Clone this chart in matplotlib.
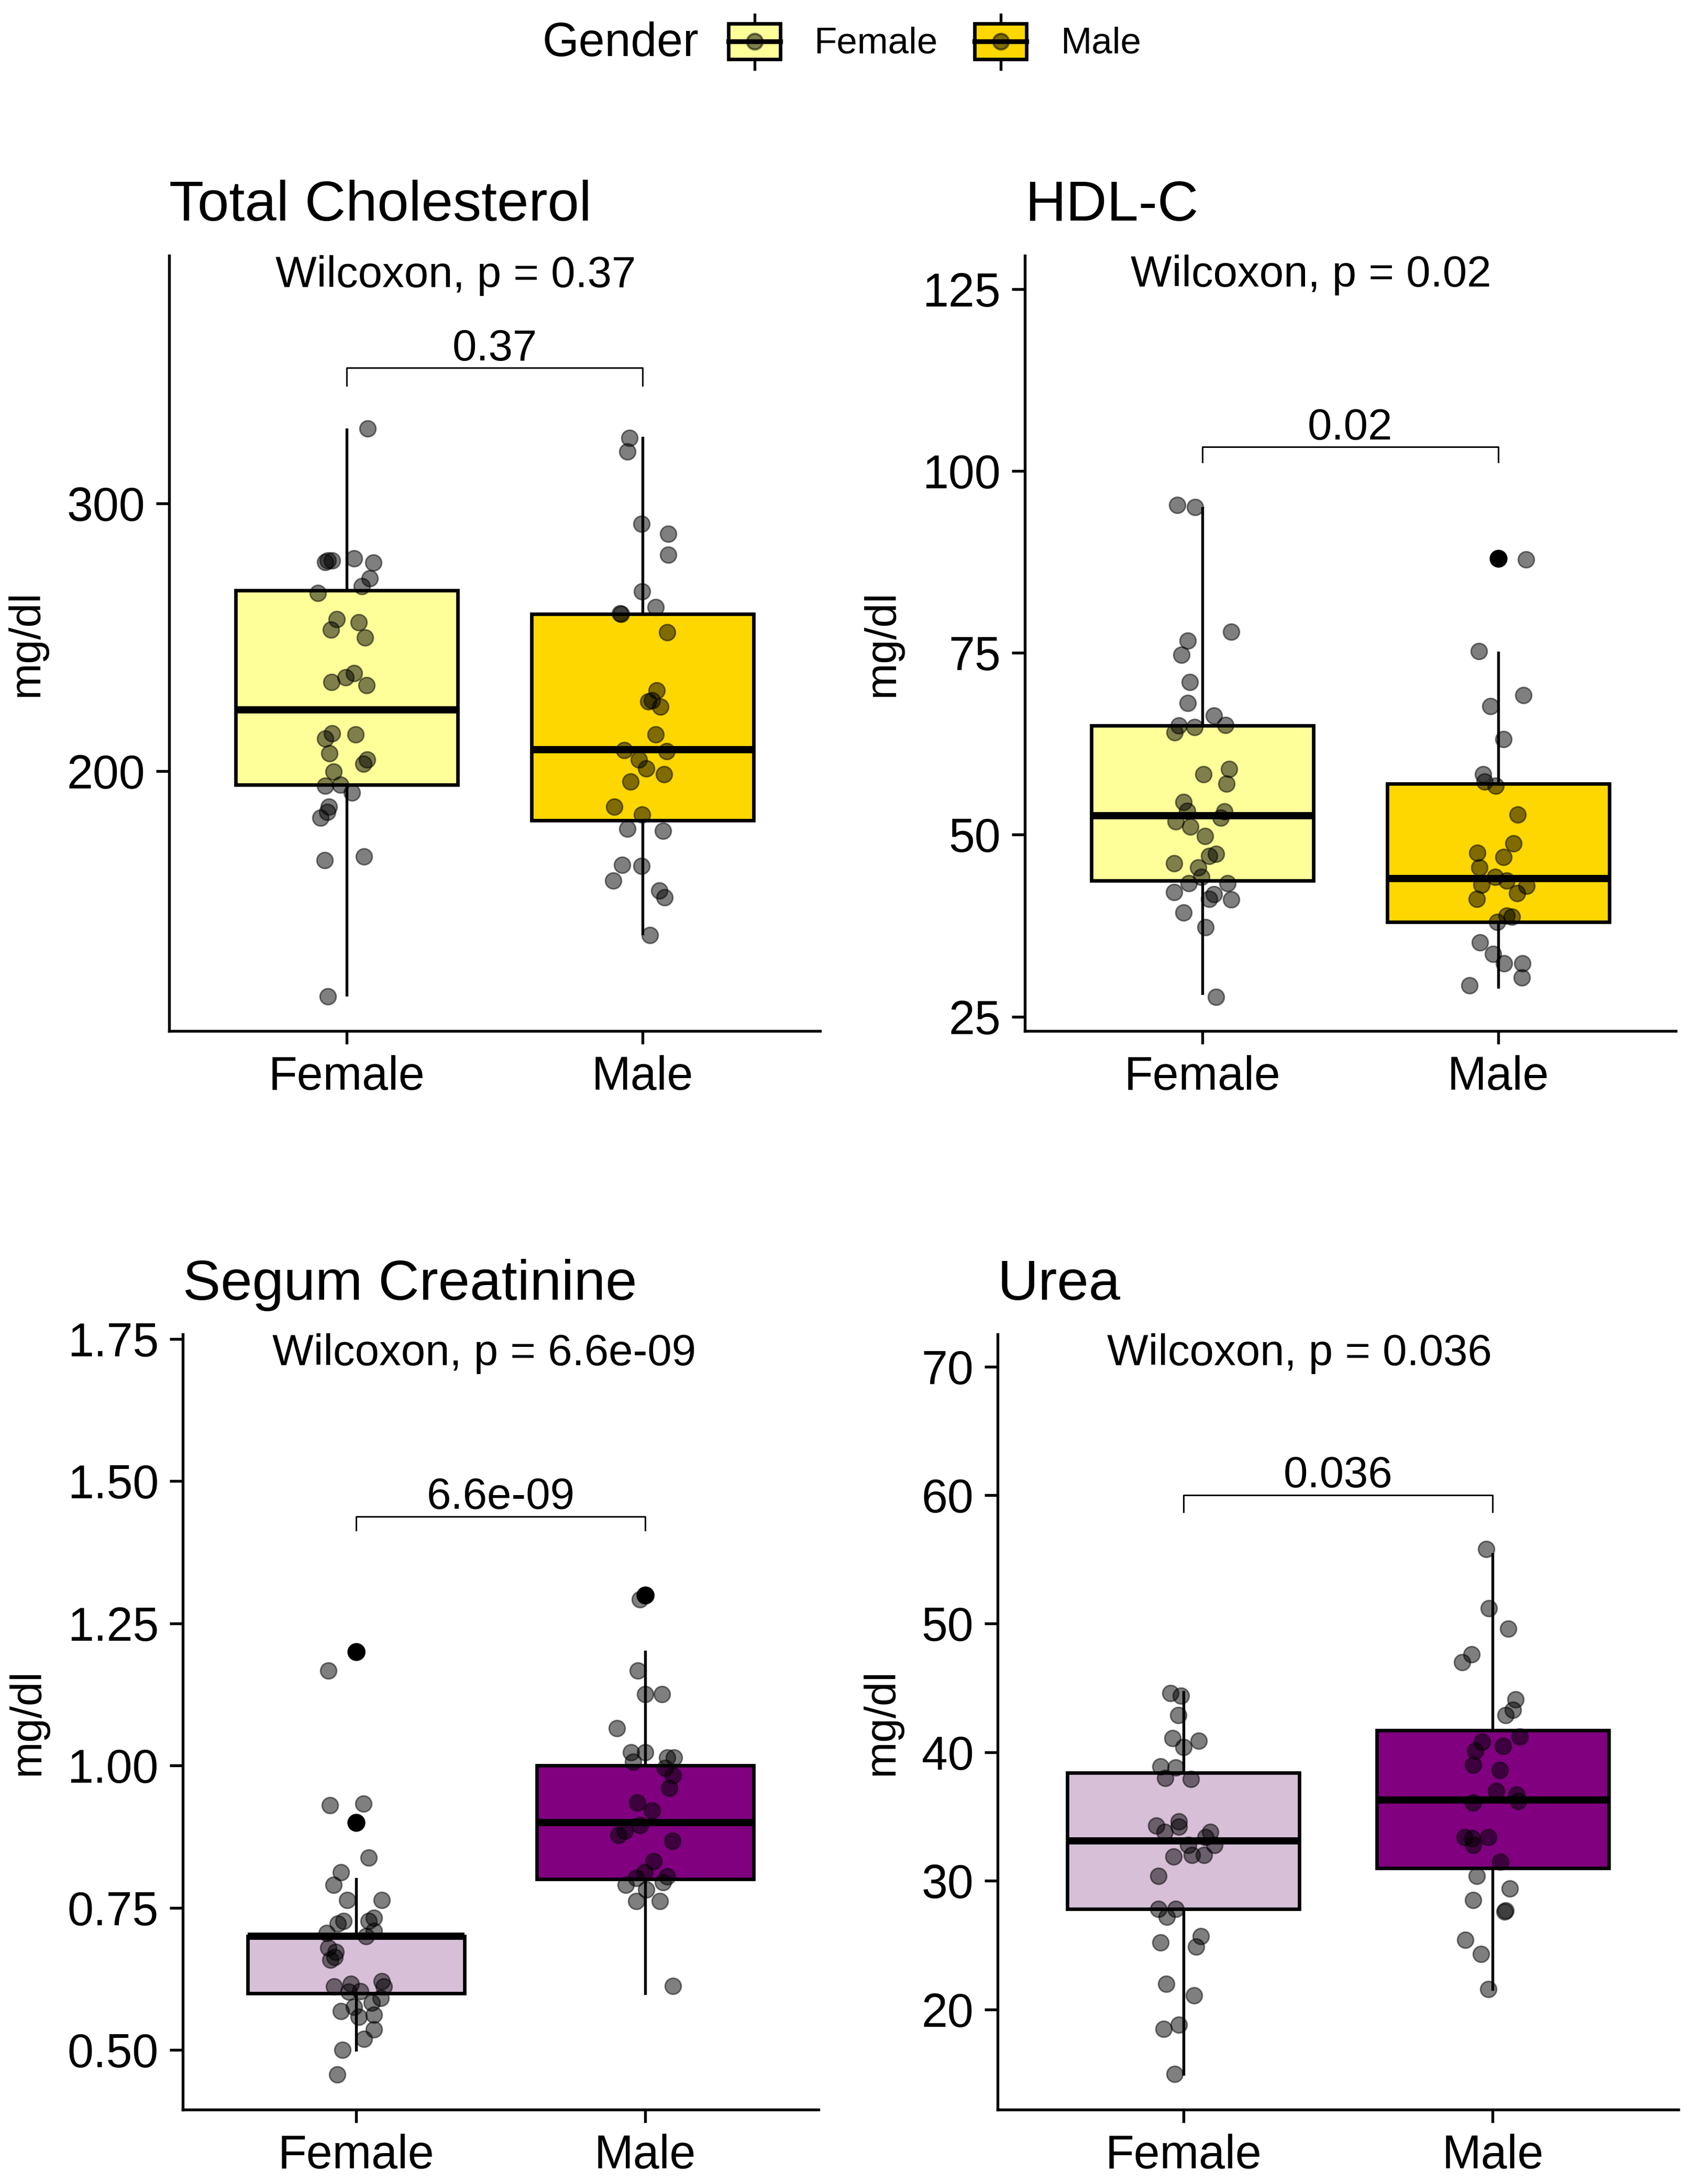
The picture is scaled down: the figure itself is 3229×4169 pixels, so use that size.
import matplotlib
matplotlib.use('Agg')
import matplotlib.pyplot as plt
from matplotlib.patches import Rectangle
from matplotlib.lines import Line2D
from matplotlib.ticker import FormatStrFormatter

plt.rcParams['font.family'] = ['Liberation Sans', 'DejaVu Sans']

# ---------------- data ----------------
groups = ['Female', 'Male']
titles = ['Total Cholesterol', 'HDL-C', 'Segum Creatinine', 'Urea']
p_values = ['0.37', '0.02', '6.6e-09', '0.036']
ylabel = 'mg/dl'

# Total cholesterol
tc_female = [328, 278.6, 278.6, 278, 279.4, 277.8, 272, 269, 266.5, 256.8, 255.6, 252.7, 249.8,
             236.6, 235, 233.3, 232, 214, 212, 213.6, 206.6, 204.3, 202.7, 199.8, 194.4, 194.8,
             192, 186.6, 184.6, 182.5, 166.7, 168, 115.8]
tc_female_jit = [0.07, -0.064, -0.049, -0.073, 0.024, 0.091, 0.078, 0.051, -0.098, -0.034, 0.04,
                 -0.053, 0.062, 0.024, -0.004, -0.051, 0.067, -0.049, -0.073, 0.031, -0.058, 0.069,
                 0.056, -0.044, -0.073, -0.022, 0.018, -0.06, -0.065, -0.089, -0.074, 0.058, -0.064]
tc_male = [324.5, 319.3, 292.4, 288.7, 280.7, 267, 261.3, 258.8, 258.6, 251.9, 230, 226, 226.4,
           224, 213.6, 207.8, 207.4, 204.3, 201, 198.8, 196, 186.6, 183.7, 178.4, 177.6, 165,
           164.6, 159, 155.3, 152.7, 138.7]
tc_male_jit = [-0.045, -0.051, -0.004, 0.087, 0.087, -0.002, 0.044, -0.076, -0.073, 0.083, 0.047,
               0.02, 0.031, 0.06, 0.045, -0.062, 0.082, -0.013, 0.013, 0.073, -0.04, -0.096, -0.002,
               -0.051, 0.069, -0.069, -0.004, -0.1, 0.056, 0.074, 0.025]
# box stats: whisker low, Q1, median, Q3, whisker high
tc_box_female = [116.3, 194.9, 222.8, 267.5, 327.6]
tc_box_male = [139.3, 181.5, 208.0, 258.6, 324.5]
tc_out_female = []
tc_out_male = []

# HDL-C
hdl_female = [95.3, 95, 77.9, 76.7, 74.7, 71, 68.1, 66.4, 65, 64.8, 65.1, 64.1, 58.3, 59, 57,
              54.5, 53.3, 53.2, 51.8, 52.3, 51.1, 49.8, 47.4, 47.1, 46.1, 45.5, 44.2, 43.3, 43.3,
              42.1, 41.8, 41.2, 41.1, 39.3, 37.3, 27.7]
hdl_female_jit = [-0.085, -0.024, 0.097, -0.05, -0.07, -0.042, -0.05, 0.039, -0.079, -0.026, 0.079,
                  -0.094, 0.004, 0.09, 0.081, -0.063, -0.051, 0.074, -0.09, 0.063, -0.04, 0.009,
                  0.046, 0.024, -0.096, -0.013, -0.004, -0.046, 0.085, -0.096, 0.039, 0.024, 0.097,
                  -0.063, 0.011, 0.046]
hdl_male = [87.8, 75.2, 69.2, 67.7, 63.1, 58.3, 57.3, 56.7, 52.8, 48.8, 47.5, 46.9, 45.5, 44.2,
            43.7, 43, 43.1, 42, 41.2, 38.7, 38.9, 38, 35.2, 33.6, 32.3, 32.3, 30.4, 29.3]
hdl_male_jit = [0.094, -0.066, 0.086, -0.026, 0.017, -0.051, -0.046, -0.009, 0.066, 0.051, -0.07,
                0.017, -0.064, -0.011, 0.028, 0.096, -0.057, 0.064, -0.072, 0.046, 0.028, -0.004,
                -0.061, -0.017, 0.02, 0.081, 0.079, -0.097]
hdl_box_female = [28.2, 43.7, 52.6, 65.0, 94.9]
hdl_box_male = [29.1, 38.0, 44.0, 57.0, 75.0]
hdl_out_female = []
hdl_out_male = [88.0]

# Serum creatinine
cr_female = [1.167, 1.2, 0.93, 0.933, 0.9, 0.838, 0.812, 0.79, 0.764, 0.764, 0.727, 0.722, 0.732,
             0.727, 0.706, 0.709, 0.7, 0.68, 0.672, 0.659, 0.663, 0.621, 0.616, 0.612, 0.612,
             0.602, 0.603, 0.591, 0.583, 0.576, 0.568, 0.562, 0.558, 0.536, 0.52, 0.5, 0.457]
cr_female_jit = [-0.096, 0.002, -0.09, 0.026, 0.0, 0.044, -0.052, -0.077, -0.03, 0.089, -0.044,
                 -0.063, 0.061, 0.044, -0.101, 0.061, 0.035, -0.096, -0.07, -0.089, -0.074, 0.089,
                 -0.017, -0.076, 0.096, -0.026, 0.015, 0.085, 0.054, -0.007, -0.052, 0.061, 0.009,
                 0.061, 0.028, -0.046, -0.065]
cr_male = [1.292, 1.3, 1.167, 1.126, 1.126, 1.066, 1.023, 1.023, 1.007, 1.014, 1.014, 0.996, 0.983,
           0.961, 0.935, 0.921, 0.895, 0.885, 0.878, 0.868, 0.832, 0.812, 0.802, 0.805, 0.795,
           0.79, 0.782, 0.762, 0.762, 0.613]
cr_male_jit = [-0.018, 0.002, -0.024, 0.0, 0.059, -0.098, -0.048, 0.0, -0.042, 0.076, 0.1, 0.07,
               0.096, 0.083, -0.026, 0.024, -0.018, -0.07, -0.092, 0.094, 0.03, -0.002, -0.03,
               0.077, 0.063, -0.066, 0.004, -0.03, 0.052, 0.096]
cr_box_female = [0.5, 0.6, 0.7, 0.7, 0.8]
cr_box_male = [0.6, 0.8, 0.9, 1.0, 1.2]
cr_out_female = [1.2, 0.9]
cr_out_male = [1.3]

# Urea
urea_female = [44.6, 44.4, 42.9, 41.1, 40.9, 40.4, 38.9, 38.8, 38, 37.9, 34.6, 34.3, 34.2, 33.8,
               33.8, 33.4, 32.8, 32.8, 32, 32, 31.9, 30.4, 27.8, 27.8, 27.2, 25.7, 25.2, 24.9, 22,
               21.1, 18.5, 18.8, 15]
urea_female_jit = [-0.042, -0.007, -0.016, -0.034, 0.05, 0.0, -0.074, -0.025, -0.058, 0.025, -0.014,
                   -0.088, -0.014, -0.06, 0.087, 0.071, 0.016, 0.101, 0.067, 0.028, -0.032, -0.081,
                   -0.08, -0.025, -0.053, 0.057, -0.073, 0.041, -0.055, 0.034, -0.064, -0.014, -0.028]
urea_male = [55.8, 51.2, 49.6, 47.6, 47, 44.1, 43.3, 42.9, 41.2, 40.8, 40.1, 40.5, 39, 38.6, 37,
             36.7, 36.1, 36.2, 33.4, 33.3, 33.4, 32.8, 31.5, 30.4, 29.4, 28.5, 27.7, 27.6, 25.4,
             24.3, 21.6]
urea_male_jit = [-0.021, -0.012, 0.051, -0.069, -0.099, 0.074, 0.065, 0.042, 0.088, -0.035, -0.057,
                 0.034, -0.064, 0.023, 0.012, 0.078, -0.064, 0.083, -0.09, -0.067, -0.014, -0.064,
                 0.025, -0.051, 0.055, -0.064, 0.042, 0.039, -0.088, -0.037, -0.014]
urea_box_female = [15.0, 27.8, 33.1, 38.4, 44.7]
urea_box_male = [21.6, 31.0, 36.3, 41.7, 55.4]
urea_out_female = []
urea_out_male = []

# ---------------- styling / layout ----------------
W, H = 3229, 4169
DPI = 300
fig = plt.figure(figsize=(W / DPI, H / DPI), dpi=DPI)

yellow_cols = ['#FFFF99', '#FFD700']
purple_cols = ['#D8BFD8', '#800080']

panels = [
    dict(rect=[0.100, 0.528, 0.385, 0.355], ylim=(102.9, 392.6), yticks=[200, 300], fmt='%d',
         vals=(tc_female, tc_male), jit=(tc_female_jit, tc_male_jit),
         box=(tc_box_female, tc_box_male), out=(tc_out_female, tc_out_male),
         cols=yellow_cols, brk=(350.6, 344.0), wil=(0.76, 385.2)),
    dict(rect=[0.606, 0.528, 0.385, 0.355], ylim=(23.05, 129.6), yticks=[25, 50, 75, 100, 125],
         fmt='%d', vals=(hdl_female, hdl_male), jit=(hdl_female_jit, hdl_male_jit),
         box=(hdl_box_female, hdl_box_male), out=(hdl_out_female, hdl_out_male),
         cols=yellow_cols, brk=(103.3, 101.2), wil=(0.758, 126.9)),
    dict(rect=[0.108, 0.034, 0.376, 0.355], ylim=(0.395, 1.758),
         yticks=[0.5, 0.75, 1.0, 1.25, 1.5, 1.75], fmt='%.2f',
         vals=(cr_female, cr_male), jit=(cr_female_jit, cr_male_jit),
         box=(cr_box_female, cr_box_male), out=(cr_out_female, cr_out_male),
         cols=purple_cols, brk=(1.438, 1.414), wil=(0.71, 1.724)),
    dict(rect=[0.590, 0.034, 0.4025, 0.355], ylim=(12.2, 72.5), yticks=[20, 30, 40, 50, 60, 70],
         fmt='%d', vals=(urea_female, urea_male), jit=(urea_female_jit, urea_male_jit),
         box=(urea_box_female, urea_box_male), out=(urea_out_female, urea_out_male),
         cols=purple_cols, brk=(60.0, 58.7), wil=(0.754, 71.0)),
]

LW_AX = 1.3
LW_BOX = 1.6
LW_WHISK = 1.3
LW_MED = 3.3
positions = [1, 2]
for i, p in enumerate(panels):
    ax = fig.add_axes(p['rect'])
    stats = []
    for g, b, o in zip(groups, p['box'], p['out']):
        stats.append(dict(label=g, whislo=b[0], q1=b[1], med=b[2], q3=b[3], whishi=b[4],
                          fliers=o))
    bp = ax.bxp(stats, positions=positions, widths=0.75, patch_artist=True, showcaps=False,
                showfliers=True,
                boxprops=dict(linewidth=LW_BOX, edgecolor='black'),
                medianprops=dict(linewidth=LW_MED, color='black', solid_capstyle='butt'),
                whiskerprops=dict(linewidth=LW_WHISK, color='black'),
                flierprops=dict(marker='o', markerfacecolor='black', markeredgecolor='black',
                                markersize=7.2, linestyle='none'))
    for patch, c in zip(bp['boxes'], p['cols']):
        patch.set_facecolor(c)
        patch.set_zorder(1)
    for k in range(2):
        xs = [positions[k] + j for j in p['jit'][k]]
        ax.scatter(xs, p['vals'][k], s=54, c='black', alpha=0.5, edgecolors='black',
                   linewidths=0.7, zorder=4)

    # significance bracket
    yb, yt = p['brk']
    ax.plot([1, 1, 2, 2], [yt, yb, yb, yt], color='black', lw=0.7, zorder=5)
    ax.annotate(p_values[i], xy=(1.5, yb), xytext=(0, 3.5), textcoords='offset points',
                ha='center', va='baseline', fontsize=20)
    ax.text(p['wil'][0], p['wil'][1], 'Wilcoxon, p = ' + p_values[i], ha='left', va='center',
            fontsize=20)

    ax.set_xlim(0.4, 2.6)
    ax.set_ylim(*p['ylim'])
    ax.set_xticks(positions)
    ax.set_xticklabels(groups)
    ax.set_yticks(p['yticks'])
    ax.yaxis.set_major_formatter(FormatStrFormatter(p['fmt']))
    ax.tick_params(length=6, width=LW_AX, labelsize=21.5, pad=5, color='black', labelcolor='black')
    for s in ['top', 'right']:
        ax.spines[s].set_visible(False)
    for s in ['left', 'bottom']:
        ax.spines[s].set_linewidth(LW_AX)
    ax.set_ylabel(ylabel, fontsize=20, labelpad=9)
    ax.set_title(titles[i], loc='left', fontsize=26, pad=16)

# ---------------- legend ----------------
def fx(x):
    return x / W

def fy(y):
    return 1 - y / H

fig.text(fx(1036), fy(84), 'Gender', fontsize=21.5, ha='left', va='center')
legend_items = [('Female', yellow_cols[0], 1391, 1554), ('Male', yellow_cols[1], 1861, 2025)]
for label, col, bx, tx in legend_items:
    bw, top, bot, med = 99, 45, 113, 79
    cx = bx + bw / 2
    fig.add_artist(Line2D([fx(cx), fx(cx)], [fy(28), fy(132)], color='black', lw=LW_WHISK,
                          transform=fig.transFigure, zorder=1))
    fig.add_artist(Rectangle((fx(bx), fy(bot)), fx(bw), (bot - top) / H, facecolor=col,
                             edgecolor='black', lw=LW_BOX, transform=fig.transFigure, zorder=2))
    fig.add_artist(Line2D([fx(bx), fx(bx + bw)], [fy(med), fy(med)], color='black', lw=2.2,
                          transform=fig.transFigure, zorder=3))
    fig.add_artist(Line2D([fx(cx)], [fy(med)], marker='o', markersize=7.2, color='black',
                          alpha=0.5, linestyle='none', transform=fig.transFigure, zorder=4))
    fig.text(fx(tx), fy(84), label, fontsize=17, ha='left', va='center')

fig.savefig('out.png', dpi=DPI, facecolor='white')
